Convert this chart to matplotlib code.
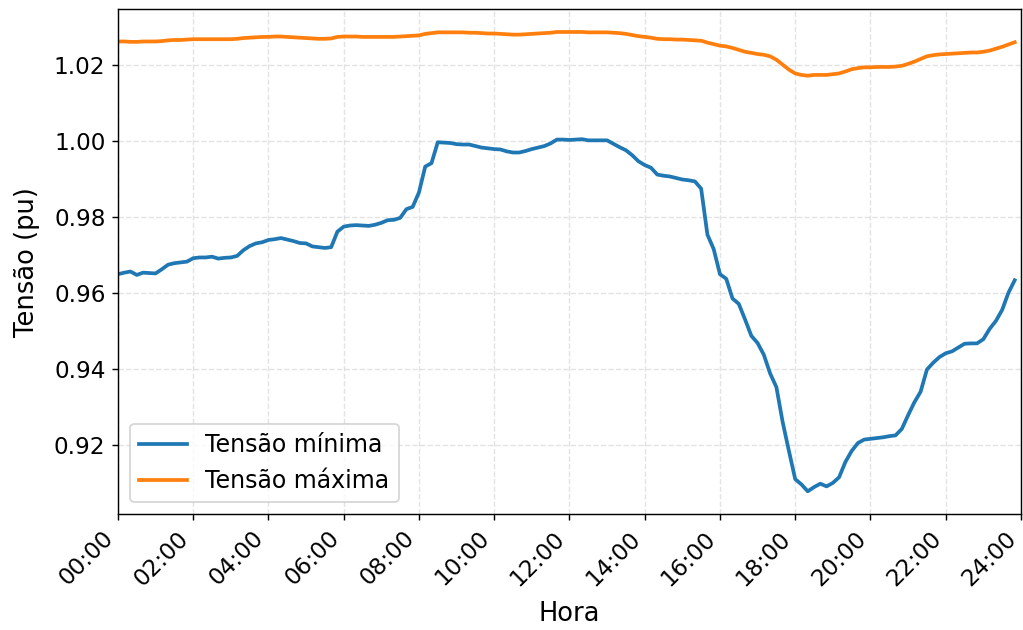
import numpy as np
import matplotlib
matplotlib.use("Agg")
import matplotlib.pyplot as plt

# passo de 10 minutos, 00:00 ate 23:50
minutos = np.arange(0, 1440, 10)

tensao_min = [
    0.9649, 0.9653, 0.9656, 0.9647, 0.9653, 0.9652,
    0.9651, 0.9662, 0.9674, 0.9678, 0.9680, 0.9682,
    0.9691, 0.9693, 0.9693, 0.9695, 0.9690, 0.9692,
    0.9693, 0.9697, 0.9712, 0.9723, 0.9730, 0.9733,
    0.9739, 0.9741, 0.9744, 0.9740, 0.9736, 0.9731,
    0.9730, 0.9722, 0.9720, 0.9718, 0.9720, 0.9761,
    0.9774, 0.9777, 0.9778, 0.9777, 0.9776, 0.9779,
    0.9784, 0.9791, 0.9792, 0.9797, 0.9820, 0.9826,
    0.9864, 0.9932, 0.9941, 0.9996, 0.9995, 0.9994,
    0.9991, 0.9990, 0.9990, 0.9986, 0.9982, 0.9980,
    0.9978, 0.9977, 0.9972, 0.9969, 0.9969, 0.9973,
    0.9978, 0.9982, 0.9986, 0.9993, 1.0003, 1.0003,
    1.0002, 1.0003, 1.0004, 1.0001, 1.0001, 1.0001,
    1.0001, 0.9992, 0.9983, 0.9975, 0.9962, 0.9946,
    0.9936, 0.9929, 0.9911, 0.9908, 0.9906, 0.9902,
    0.9898, 0.9896, 0.9893, 0.9874, 0.9753, 0.9715,
    0.9649, 0.9637, 0.9585, 0.9571, 0.9530, 0.9487,
    0.9468, 0.9437, 0.9388, 0.9352, 0.9260, 0.9184,
    0.9110, 0.9096, 0.9078, 0.9089, 0.9098, 0.9091,
    0.9100, 0.9115, 0.9155, 0.9184, 0.9205, 0.9214,
    0.9216, 0.9218, 0.9220, 0.9223, 0.9225, 0.9242,
    0.9278, 0.9312, 0.9340, 0.9398, 0.9416, 0.9431,
    0.9441, 0.9446, 0.9456, 0.9466, 0.9467, 0.9467,
    0.9478, 0.9505, 0.9526, 0.9555, 0.9600, 0.9633,
]

tensao_max = [
    1.0261, 1.0261, 1.0260, 1.0260, 1.0261, 1.0261,
    1.0261, 1.0262, 1.0264, 1.0265, 1.0265, 1.0266,
    1.0267, 1.0267, 1.0267, 1.0267, 1.0267, 1.0267,
    1.0267, 1.0268, 1.0270, 1.0271, 1.0272, 1.0273,
    1.0273, 1.0274, 1.0274, 1.0273, 1.0272, 1.0271,
    1.0270, 1.0269, 1.0268, 1.0268, 1.0269, 1.0273,
    1.0274, 1.0274, 1.0274, 1.0273, 1.0273, 1.0273,
    1.0273, 1.0273, 1.0273, 1.0274, 1.0275, 1.0276,
    1.0277, 1.0281, 1.0283, 1.0285, 1.0285, 1.0285,
    1.0285, 1.0285, 1.0284, 1.0284, 1.0283, 1.0282,
    1.0282, 1.0281, 1.0280, 1.0279, 1.0279, 1.0280,
    1.0281, 1.0282, 1.0283, 1.0284, 1.0286, 1.0286,
    1.0286, 1.0286, 1.0286, 1.0285, 1.0285, 1.0285,
    1.0285, 1.0284, 1.0283, 1.0281, 1.0278, 1.0275,
    1.0273, 1.0271, 1.0268, 1.0267, 1.0267, 1.0266,
    1.0266, 1.0265, 1.0264, 1.0263, 1.0258, 1.0254,
    1.0250, 1.0248, 1.0244, 1.0239, 1.0234, 1.0231,
    1.0228, 1.0226, 1.0222, 1.0213, 1.0200, 1.0187,
    1.0177, 1.0173, 1.0171, 1.0173, 1.0173, 1.0173,
    1.0175, 1.0177, 1.0182, 1.0188, 1.0191, 1.0193,
    1.0193, 1.0194, 1.0194, 1.0194, 1.0195, 1.0197,
    1.0202, 1.0208, 1.0215, 1.0222, 1.0225, 1.0227,
    1.0228, 1.0229, 1.0230, 1.0231, 1.0232, 1.0232,
    1.0234, 1.0237, 1.0242, 1.0247, 1.0253, 1.0259,
]

ticks_horas = list(range(0, 25, 2))
ticks_labels = ["%02d:00" % h for h in ticks_horas]

horas = minutos / 60.0

fig = plt.figure(figsize=(1023 / 128, 630 / 128), dpi=128)
ax = fig.add_subplot(111)
fig.subplots_adjust(left=0.1153, right=0.998, top=0.9857, bottom=0.1837)

ax.plot(horas, tensao_min, lw=2.1, color='tab:blue', label='Tensão mínima')
ax.plot(horas, tensao_max, lw=2.1, color='tab:orange', label='Tensão máxima')

ax.set_xlim(0, 24)
ax.set_xticks(ticks_horas)
ax.set_xticklabels(ticks_labels, rotation=45, ha='right', fontsize=13)
ax.tick_params(axis='y', labelsize=13)
ax.set_xlabel('Hora', fontsize=14.5, labelpad=6)
ax.set_ylabel('Tensão (pu)', fontsize=14.5, labelpad=8)
ax.grid(True, linestyle='--', alpha=0.35)
ax.legend(loc='lower left', fontsize=13.3)

fig.savefig('out.png', dpi=128)
